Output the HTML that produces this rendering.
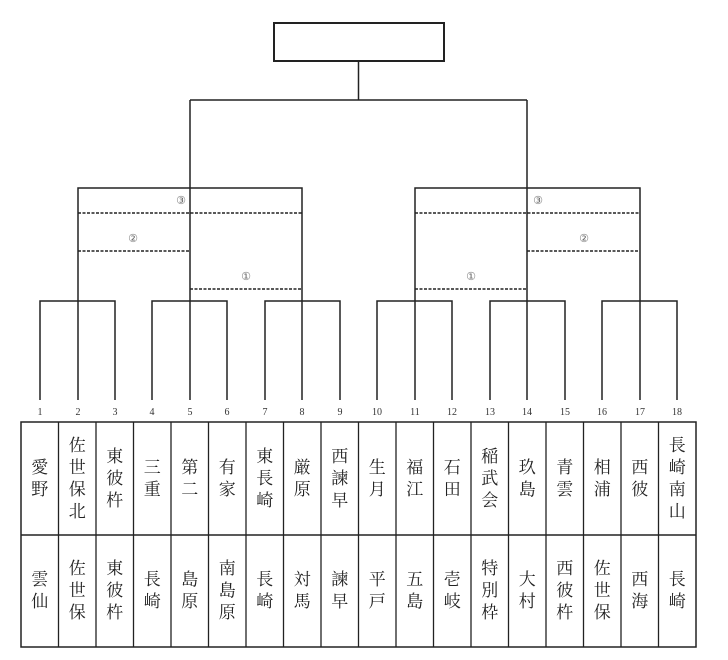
<!DOCTYPE html>
<html><head><meta charset="utf-8"><style>
body{margin:0;background:#fff;width:728px;height:660px;position:relative;overflow:hidden}
svg{position:absolute;left:0;top:0}
.c{position:absolute;width:37.5px;display:flex;align-items:center;justify-content:center;text-align:center;font-family:"Liberation Serif","Noto Serif CJK SC",serif;font-size:17px;line-height:22px;color:#222}
</style></head><body>
<svg width="728" height="660" font-family="Liberation Serif, serif">
<g stroke="#222" stroke-width="1.5" fill="none">
<rect x="274" y="23" width="170" height="38" stroke-width="2"/>
<line x1="358.5" y1="61" x2="358.5" y2="100"/>
<line x1="190" y1="100" x2="527" y2="100"/>
<polyline points="78,400 78,188 302,188 302,400"/>
<line x1="190" y1="100" x2="190" y2="400"/>
<polyline points="415,400 415,188 640,188 640,400"/>
<line x1="527" y1="100" x2="527" y2="400"/>
<polyline points="40,400 40,301 115,301 115,400"/>
<polyline points="152,400 152,301 227,301 227,400"/>
<polyline points="265,400 265,301 340,301 340,400"/>
<polyline points="377,400 377,301 452,301 452,400"/>
<polyline points="490,400 490,301 565,301 565,400"/>
<polyline points="602,400 602,301 677,301 677,400"/>
<g stroke-dasharray="3,1.5">
<line x1="78" y1="213" x2="302" y2="213"/>
<line x1="78" y1="251" x2="190" y2="251"/>
<line x1="190" y1="289" x2="302" y2="289"/>
<line x1="415" y1="213" x2="640" y2="213"/>
<line x1="527" y1="251" x2="640" y2="251"/>
<line x1="415" y1="289" x2="527" y2="289"/>
</g>
<rect x="21" y="422" width="675" height="225"/>
<line x1="21" y1="535" x2="696" y2="535"/>
</g>
<g stroke="#222" stroke-width="1.3">
<line x1="58.5" y1="422" x2="58.5" y2="647"/><line x1="96" y1="422" x2="96" y2="647"/><line x1="133.5" y1="422" x2="133.5" y2="647"/><line x1="171" y1="422" x2="171" y2="647"/><line x1="208.5" y1="422" x2="208.5" y2="647"/><line x1="246" y1="422" x2="246" y2="647"/><line x1="283.5" y1="422" x2="283.5" y2="647"/><line x1="321" y1="422" x2="321" y2="647"/><line x1="358.5" y1="422" x2="358.5" y2="647"/><line x1="396" y1="422" x2="396" y2="647"/><line x1="433.5" y1="422" x2="433.5" y2="647"/><line x1="471" y1="422" x2="471" y2="647"/><line x1="508.5" y1="422" x2="508.5" y2="647"/><line x1="546" y1="422" x2="546" y2="647"/><line x1="583.5" y1="422" x2="583.5" y2="647"/><line x1="621" y1="422" x2="621" y2="647"/><line x1="658.5" y1="422" x2="658.5" y2="647"/>
</g>
<g fill="#666" font-size="11" text-anchor="middle">
<text x="181" y="204">③</text><text x="133" y="242">②</text><text x="246" y="280">①</text>
<text x="538" y="204">③</text><text x="584" y="242">②</text><text x="471" y="280">①</text>
</g>
<g fill="#333" font-size="10" text-anchor="middle">
<text x="40" y="415">1</text><text x="78" y="415">2</text><text x="115" y="415">3</text><text x="152" y="415">4</text><text x="190" y="415">5</text><text x="227" y="415">6</text><text x="265" y="415">7</text><text x="302" y="415">8</text><text x="340" y="415">9</text><text x="377" y="415">10</text><text x="415" y="415">11</text><text x="452" y="415">12</text><text x="490" y="415">13</text><text x="527" y="415">14</text><text x="565" y="415">15</text><text x="602" y="415">16</text><text x="640" y="415">17</text><text x="677" y="415">18</text>
</g>
</svg>
<div class="c" style="left:21px;top:422px;height:113px">愛<br>野</div>
<div class="c" style="left:58.5px;top:422px;height:113px">佐<br>世<br>保<br>北</div>
<div class="c" style="left:96px;top:422px;height:113px">東<br>彼<br>杵</div>
<div class="c" style="left:133.5px;top:422px;height:113px">三<br>重</div>
<div class="c" style="left:171px;top:422px;height:113px">第<br>二</div>
<div class="c" style="left:208.5px;top:422px;height:113px">有<br>家</div>
<div class="c" style="left:246px;top:422px;height:113px">東<br>長<br>崎</div>
<div class="c" style="left:283.5px;top:422px;height:113px">厳<br>原</div>
<div class="c" style="left:321px;top:422px;height:113px">西<br>諫<br>早</div>
<div class="c" style="left:358.5px;top:422px;height:113px">生<br>月</div>
<div class="c" style="left:396px;top:422px;height:113px">福<br>江</div>
<div class="c" style="left:433.5px;top:422px;height:113px">石<br>田</div>
<div class="c" style="left:471px;top:422px;height:113px">稲<br>武<br>会</div>
<div class="c" style="left:508.5px;top:422px;height:113px">玖<br>島</div>
<div class="c" style="left:546px;top:422px;height:113px">青<br>雲</div>
<div class="c" style="left:583.5px;top:422px;height:113px">相<br>浦</div>
<div class="c" style="left:621px;top:422px;height:113px">西<br>彼</div>
<div class="c" style="left:658.5px;top:422px;height:113px">長<br>崎<br>南<br>山</div>
<div class="c" style="left:21px;top:535px;height:112px">雲<br>仙</div>
<div class="c" style="left:58.5px;top:535px;height:112px">佐<br>世<br>保</div>
<div class="c" style="left:96px;top:535px;height:112px">東<br>彼<br>杵</div>
<div class="c" style="left:133.5px;top:535px;height:112px">長<br>崎</div>
<div class="c" style="left:171px;top:535px;height:112px">島<br>原</div>
<div class="c" style="left:208.5px;top:535px;height:112px">南<br>島<br>原</div>
<div class="c" style="left:246px;top:535px;height:112px">長<br>崎</div>
<div class="c" style="left:283.5px;top:535px;height:112px">対<br>馬</div>
<div class="c" style="left:321px;top:535px;height:112px">諫<br>早</div>
<div class="c" style="left:358.5px;top:535px;height:112px">平<br>戸</div>
<div class="c" style="left:396px;top:535px;height:112px">五<br>島</div>
<div class="c" style="left:433.5px;top:535px;height:112px">壱<br>岐</div>
<div class="c" style="left:471px;top:535px;height:112px">特<br>別<br>枠</div>
<div class="c" style="left:508.5px;top:535px;height:112px">大<br>村</div>
<div class="c" style="left:546px;top:535px;height:112px">西<br>彼<br>杵</div>
<div class="c" style="left:583.5px;top:535px;height:112px">佐<br>世<br>保</div>
<div class="c" style="left:621px;top:535px;height:112px">西<br>海</div>
<div class="c" style="left:658.5px;top:535px;height:112px">長<br>崎</div>
</body></html>
